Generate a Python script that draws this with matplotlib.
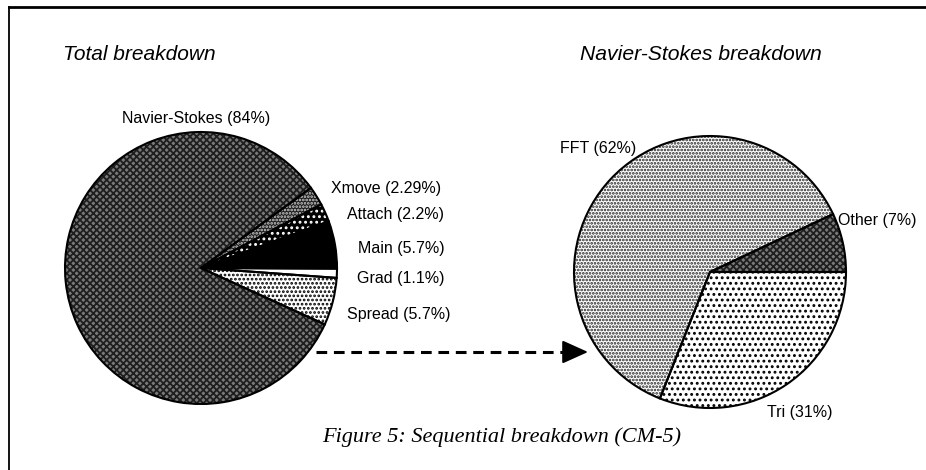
import matplotlib
matplotlib.use("Agg")
import matplotlib.pyplot as plt

# ---------------- data ----------------
total_labels = ["Navier-Stokes", "Xmove", "Attach", "Main", "Grad", "Spread"]
total_values = [84, 2.29, 2.2, 5.7, 1.1, 5.7]
total_value_text = ["84%", "2.29%", "2.2%", "5.7%", "1.1%", "5.7%"]

ns_labels = ["FFT", "Other", "Tri"]
ns_values = [62, 7, 31]
ns_value_text = ["62%", "7%", "31%"]

titles = ["Total breakdown", "Navier-Stokes breakdown"]
caption = "Figure 5: Sequential breakdown (CM-5)"

# ---------------- fonts ----------------
SANS = ["Liberation Sans", "DejaVu Sans"]
SERIF = ["Liberation Serif", "DejaVu Serif"]
plt.rcParams["hatch.linewidth"] = 1.3

W, H = 926, 470
fig = plt.figure(figsize=(W / 100, H / 100), dpi=100)
ax = fig.add_axes([0, 0, 1, 1])


def Y(y):
    return H - y


# ---------------- left pie ----------------
order_left = ["Spread", "Grad", "Main", "Attach", "Xmove", "Navier-Stokes"]
styles_left = {
    "Spread": dict(fc="white", ec="black", hatch="...."),
    "Grad": dict(fc="white", ec="black", hatch=None),
    "Main": dict(fc="black", ec="black", hatch=None),
    "Attach": dict(fc="black", ec="white", hatch="..."),
    "Xmove": dict(fc="#1c1c1c", ec="#d0d0d0", hatch="....."),
    "Navier-Stokes": dict(fc="#7a7a7a", ec="#1e1e1e", hatch="xxxxx"),
}
vals_left = [total_values[total_labels.index(n)] for n in order_left]
cL = (201, Y(268))
R = 136
wedges, _ = ax.pie(vals_left, startangle=-24.5, counterclock=True,
                   center=cL, radius=R, frame=True)
for w, n in zip(wedges, order_left):
    s = styles_left[n]
    w.set_facecolor(s["fc"])
    w.set_edgecolor(s["ec"])
    w.set_linewidth(0.0)
    if s["hatch"]:
        w.set_hatch(s["hatch"])
ax.pie(vals_left, startangle=-24.5, counterclock=True, center=cL, radius=R,
       frame=True, wedgeprops=dict(fill=False, edgecolor="black", linewidth=1.5))

left_label_pos = {
    "Navier-Stokes": (196, 118, "center"),
    "Xmove": (331, 188, "left"),
    "Attach": (347, 215, "left"),
    "Main": (358, 248, "left"),
    "Grad": (357, 278, "left"),
    "Spread": (347, 314, "left"),
}
for n, v in zip(total_labels, total_value_text):
    x, y, ha = left_label_pos[n]
    ax.text(x, Y(y), f"{n} ({v})", ha=ha, va="center", fontsize=11.5,
            family=SANS, color="black")

# ---------------- right pie ----------------
order_right = ["Other", "FFT", "Tri"]
styles_right = {
    "Other": dict(fc="#7a7a7a", ec="#1e1e1e", hatch="xxxxx"),
    "FFT": dict(fc="white", ec="#222222", hatch="....."),
    "Tri": dict(fc="white", ec="black", hatch="..."),
}
vals_right = [ns_values[ns_labels.index(n)] for n in order_right]
cR = (710, Y(272))
wedges, _ = ax.pie(vals_right, startangle=0, counterclock=True,
                   center=cR, radius=R, frame=True)
for w, n in zip(wedges, order_right):
    s = styles_right[n]
    w.set_facecolor(s["fc"])
    w.set_edgecolor(s["ec"])
    w.set_linewidth(0.0)
    w.set_hatch(s["hatch"])
ax.pie(vals_right, startangle=0, counterclock=True, center=cR, radius=R,
       frame=True, wedgeprops=dict(fill=False, edgecolor="black", linewidth=1.5))

right_label_pos = {
    "FFT": (560, 148, "left"),
    "Other": (838, 220, "left"),
    "Tri": (767, 412, "left"),
}
for n, v in zip(ns_labels, ns_value_text):
    x, y, ha = right_label_pos[n]
    ax.text(x, Y(y), f"{n} ({v})", ha=ha, va="center", fontsize=11.5,
            family=SANS, color="black")

# ---------------- titles / caption ----------------
ax.text(139, Y(54), titles[0], ha="center", va="center", fontsize=15,
        style="italic", family=SANS)
ax.text(701, Y(54), titles[1], ha="center", va="center", fontsize=15.2,
        style="italic", family=SANS)
ax.text(502, Y(437), caption, ha="center", va="center", fontsize=16,
        style="italic", family=SERIF)

# ---------------- dashed arrow ----------------
ax.plot([316, 572], [Y(352), Y(352)], color="black", lw=2.2,
        linestyle=(0, (3.5, 2.2)), solid_capstyle="butt")
ax.annotate("", xy=(588, Y(352)), xytext=(570, Y(352)),
            arrowprops=dict(arrowstyle="-|>,head_length=1.0,head_width=0.45",
                            color="black", lw=1.5, mutation_scale=16,
                            shrinkA=0, shrinkB=0))

# ---------------- frame ----------------
ax.plot([9, 9], [0, Y(7)], color="black", lw=1.3)
ax.plot([9, W], [Y(7), Y(7)], color="black", lw=2.0)

ax.set_xlim(0, W)
ax.set_ylim(0, H)
ax.set_aspect("equal")
ax.axis("off")
fig.savefig("out.png", dpi=100)
